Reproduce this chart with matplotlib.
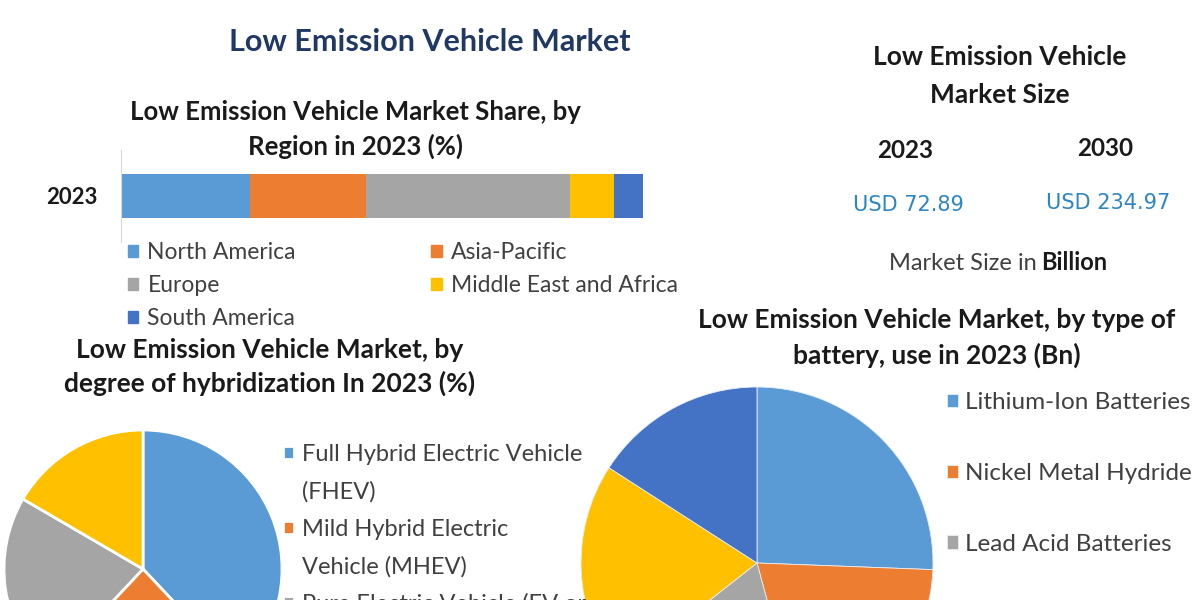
import matplotlib
matplotlib.use("Agg")
import matplotlib.pyplot as plt
from matplotlib.patches import Patch

plt.rcParams['font.family'] = ['Lato', 'DejaVu Sans']

# region share, 2023 (%)
regions = ['North America', 'Asia-Pacific', 'Europe', 'Middle East and Africa', 'South America']
region_share = [24.7, 22.2, 39.1, 8.4, 5.6]
region_colors = ['#5B9BD5', '#ED7D31', '#A5A5A5', '#FFC000', '#4472C4']

# market size (USD billion)
size_years = ['2023', '2030']
size_values = ['USD 72.89', 'USD 234.97']

# degree of hybridization 2023 (%) - legend lines as shown
hybrid_types = ['Full Hybrid Electric Vehicle', 'Mild Hybrid Electric', 'Pure Electric Vehicle (EV or', 'other']
hybrid_extra = ['(FHEV)', 'Vehicle (MHEV)', None, None]
hybrid_share = [38.0, 24.0, 21.4, 16.6]

# type of battery 2023 (Bn)
battery_types = ['Lithium-Ion Batteries', 'Nickel Metal Hydride', 'Lead Acid Batteries', 'other 1', 'other 2']
battery_share = [25.6, 20.2, 18.6, 19.7, 15.9]

W, H = 1200, 600
fig = plt.figure(figsize=(12, 6), dpi=100)
fig.patch.set_facecolor('white')

def fx(x):
    return x / W

def fy(y):
    return 1 - y / H

def put(x, y, s, size, weight='bold', color='#1a1a1a', ha='center', **kw):
    fig.text(fx(x), fy(y), s, fontsize=size, fontweight=weight, color=color,
             ha=ha, va='center', **kw)

# main title
put(430, 42, 'Low Emission Vehicle Market', 22, color='#1F3864')

# ---- stacked bar by region
put(355, 112, 'Low Emission Vehicle Market Share, by', 18.5)
put(355, 146, 'Region in 2023 (%)', 18.5)

axb = fig.add_axes([fx(121), fy(242), fx(643) - fx(121), (242 - 150) / H])
left = 0
for name, val, col in zip(regions, region_share, region_colors):
    axb.barh([0], [val], left=left, height=0.48, color=col, label=name)
    left += val
axb.set_xlim(0, sum(region_share))
axb.set_ylim(-0.5, 0.5)
axb.set_yticks([0])
axb.set_yticklabels(['2023'], fontsize=16, fontweight='bold', color='#1a1a1a')
axb.tick_params(axis='y', length=0, pad=17)
axb.set_xticks([])
for sp in ['top', 'right', 'bottom']:
    axb.spines[sp].set_visible(False)
axb.spines['left'].set_color('#d9d9d9')

order = [0, 2, 4, 1, 3]
hnd = [Patch(color=region_colors[i]) for i in order]
lab = [regions[i] for i in order]
fig.legend(hnd, lab, ncol=2, loc='upper left', bbox_to_anchor=(fx(128), fy(242)),
           frameon=False, fontsize=16.5, handlelength=0.45, handleheight=0.45,
           handletextpad=0.4, columnspacing=5.9, labelspacing=0.53, labelcolor='#404040',
           borderpad=0, borderaxespad=0)

# ---- market size block
put(1000, 57, 'Low Emission Vehicle', 19)
put(1000, 95, 'Market Size', 19)
for yr, val, x, y in zip(size_years, size_values, [905, 1105], [150, 148]):
    put(x, y, yr, 17.5)
    fig.text(fx(x + 3), fy(y + 55), val, fontsize=15, color='#2E86C1', ha='center', va='center',
             family='DejaVu Sans')
put(1037, 263, 'Market Size in', 17, weight='normal', color='#404040', ha='right')
put(1041, 263, 'Billion', 17, color='#1a1a1a', ha='left')

# ---- hybridization pie
put(270, 350, 'Low Emission Vehicle Market, by', 19)
put(270, 383, 'degree of hybridization In 2023 (%)', 19)

r1 = 139
axp1 = fig.add_axes([fx(143 - r1), fy(569 + r1), 2 * r1 / W, 2 * r1 / H])
w1, _ = axp1.pie(hybrid_share, colors=region_colors[:4], startangle=90, counterclock=False,
                 wedgeprops=dict(edgecolor='white', linewidth=2))
axp1.set_xlim(-1, 1)
axp1.set_ylim(-1, 1)
hh, hl = [], []
for i in range(3):
    hh.append(w1[i])
    hl.append(hybrid_types[i])
    if hybrid_extra[i]:
        hh.append(Patch(alpha=0))
        hl.append(hybrid_extra[i])
fig.legend(hh, hl, loc='upper left', bbox_to_anchor=(fx(283), fy(444)),
           frameon=False, fontsize=17, handlelength=0.45, handleheight=0.45,
           handletextpad=0.36, labelspacing=0.68, labelcolor='#404040',
           borderpad=0, borderaxespad=0)

# ---- battery pie
put(937, 320, 'Low Emission Vehicle Market, by type of', 19)
put(937, 355, 'battery, use in 2023 (Bn)', 19)

r2 = 176
axp2 = fig.add_axes([fx(757 - r2), fy(563 + r2), 2 * r2 / W, 2 * r2 / H])
w2, _ = axp2.pie(battery_share, colors=region_colors, startangle=90, counterclock=False,
                 wedgeprops=dict(edgecolor='#e8eef5', linewidth=0.6))
axp2.set_xlim(-1, 1)
axp2.set_ylim(-1, 1)
fig.legend(w2[:3], battery_types[:3], loc='upper left', bbox_to_anchor=(fx(947), fy(392)),
           frameon=False, fontsize=17.5, handlelength=0.45, handleheight=0.45,
           handletextpad=0.3, labelspacing=2.05, labelcolor='#404040',
           borderpad=0, borderaxespad=0)

fig.savefig('out.png', dpi=100)
